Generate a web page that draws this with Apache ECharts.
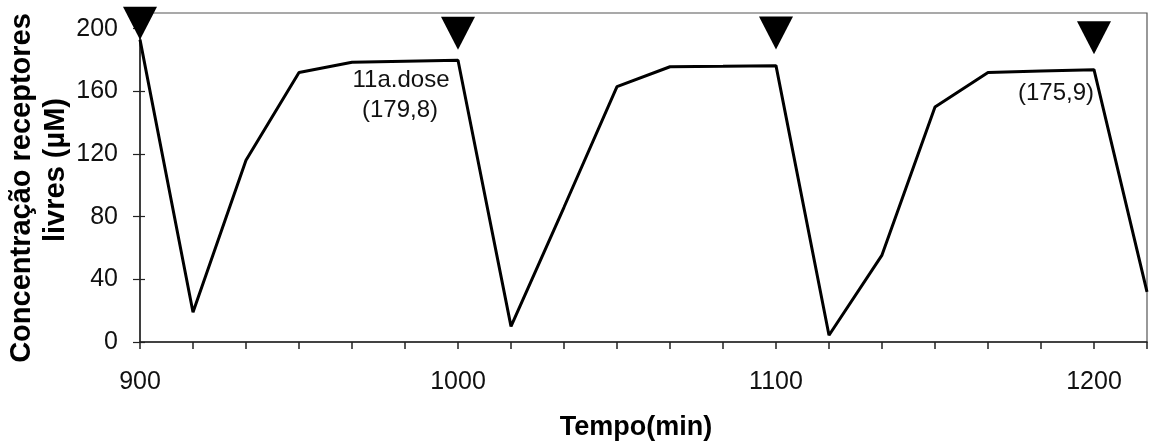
<!DOCTYPE html>
<html>
<head>
<meta charset="utf-8">
<script src="https://cdn.jsdelivr.net/npm/echarts@6/dist/echarts.min.js"></script>
<style>
html,body{margin:0;padding:0;background:#fff;}
#chart{width:1156px;height:445px;}
</style>
</head>
<body>
<div id="chart"></div>
<script>
// Data (time in min, free receptor concentration in µM)
const times = [900, 916.67, 933.33, 950, 966.67, 983.33, 1000, 1016.67, 1033.33, 1050,
               1066.67, 1083.33, 1100, 1116.67, 1133.33, 1150, 1166.67, 1183.33, 1200, 1216.67];
const conc  = [193, 19, 116, 172, 178.6, 179.2, 179.8, 10, 86, 163,
               175.7, 176, 176.4, 4.3, 55.5, 150, 172, 173, 173.8, 32];
const doseTimes  = [900, 1000, 1100, 1200];
const doseLevels = [203.5, 197, 197.3, 194.2];
const xTickLabels = [900, 1000, 1100, 1200];
const yTickLabels = [0, 40, 80, 120, 160, 200];
const annotations = ['11a.dose', '(179,8)', '(175,9)'];
const yTitle = ['Concentração receptores', 'livres (µM)'];
const xTitle = 'Tempo(min)';

const FONT = "'Liberation Sans', Arial, sans-serif";
const chart = echarts.init(document.getElementById('chart'), null, {renderer: 'canvas'});

const lineData = times.map((t, i) => [t, conc[i]]);
const doseData = doseTimes.map((t, i) => [t, doseLevels[i]]);

const yBase = {
  type: 'value', min: 0, max: 210, interval: 40, position: 'left',
  splitLine: {show: false}
};

chart.setOption({
  animation: false,
  backgroundColor: '#fff',
  grid: {left: 140, right: 9, top: 13, bottom: 103, show: true,
         borderColor: '#555', borderWidth: 1.2, backgroundColor: 'transparent'},
  xAxis: {
    type: 'value', min: 900, max: 1216.67, interval: 100 / 6,
    axisLine: {show: true, lineStyle: {color: '#222', width: 1.5}},
    axisTick: {show: true, inside: false, length: 7, lineStyle: {color: '#222', width: 1.5}},
    splitLine: {show: false},
    axisLabel: {
      margin: 28, fontSize: 25, color: '#111', fontFamily: FONT,
      showMaxLabel: false,
      formatter: function (v) {
        for (const l of xTickLabels) { if (Math.abs(v - l) < 0.01) return String(l); }
        return '';
      }
    }
  },
  yAxis: [
    Object.assign({}, yBase, {
      axisLine: {show: true, lineStyle: {color: '#222', width: 1.5}},
      axisTick: {show: true, inside: false, length: 7, lineStyle: {color: '#222', width: 1.2}},
      axisLabel: {
        margin: 22, fontSize: 25, color: '#111', fontFamily: FONT,
        formatter: function (v) { return yTickLabels.indexOf(v) >= 0 ? String(v) : ''; }
      }
    }),
    Object.assign({}, yBase, {
      axisLine: {show: false},
      axisTick: {show: true, inside: true, length: 5, lineStyle: {color: '#222', width: 1.2}},
      axisLabel: {show: false}
    })
  ],
  series: [
    {
      type: 'line', data: lineData, yAxisIndex: 0,
      showSymbol: false, symbol: 'none',
      lineStyle: {color: '#000', width: 3}, z: 3
    },
    {
      type: 'scatter', data: doseData, yAxisIndex: 0,
      symbol: 'triangle', symbolRotate: 180, symbolSize: [34, 33],
      itemStyle: {color: '#000', opacity: 1}, clip: false, z: 4, silent: true
    }
  ],
  graphic: [
    {type: 'text', x: 401, y: 80, z: 10,
     style: {text: annotations[0], font: '24px ' + FONT, fill: '#111', align: 'center', verticalAlign: 'middle'}},
    {type: 'text', x: 400, y: 110, z: 10,
     style: {text: annotations[1], font: '24px ' + FONT, fill: '#111', align: 'center', verticalAlign: 'middle'}},
    {type: 'text', x: 1056, y: 93, z: 2,
     style: {text: annotations[2], font: '24px ' + FONT, fill: '#111', align: 'center', verticalAlign: 'middle'}},
    {type: 'text', x: 22, y: 188, rotation: Math.PI / 2, z: 10,
     style: {text: yTitle[0], font: 'bold 29px ' + FONT, fill: '#000', align: 'center', verticalAlign: 'middle'}},
    {type: 'text', x: 56, y: 170, rotation: Math.PI / 2, z: 10,
     style: {text: yTitle[1], font: 'bold 29px ' + FONT, fill: '#000', align: 'center', verticalAlign: 'middle'}},
    {type: 'text', x: 636, y: 428, z: 10,
     style: {text: xTitle, font: 'bold 27px ' + FONT, fill: '#000', align: 'center', verticalAlign: 'middle'}}
  ]
});
</script>
</body>
</html>
